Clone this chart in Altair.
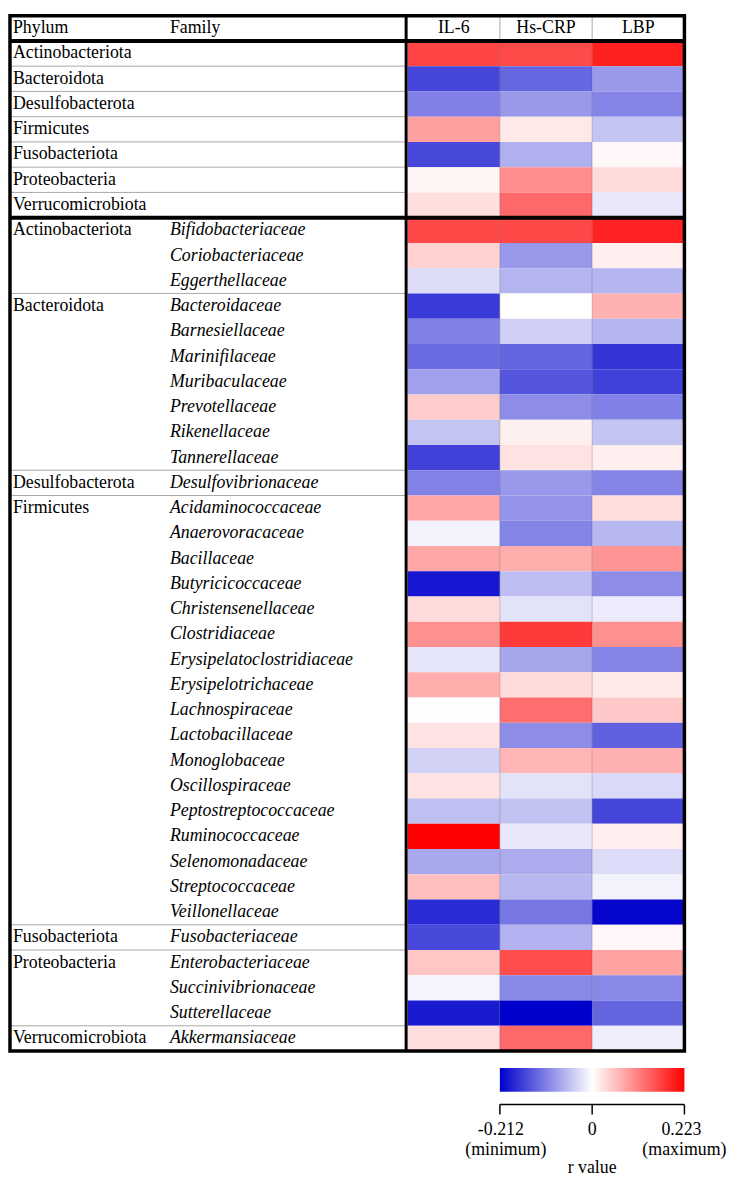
import altair as alt
import pandas as pd

# ---------------- data ----------------
measures = ["IL-6", "Hs-CRP", "LBP"]

phyla = ["Actinobacteriota", "Bacteroidota", "Desulfobacterota", "Firmicutes",
         "Fusobacteriota", "Proteobacteria", "Verrucomicrobiota"]
phylum_il6 = [0.163, -0.155, -0.106, 0.083, -0.153, 0.010, 0.029]
phylum_crp = [0.158, -0.127, -0.085, 0.020, -0.066, 0.100, 0.132]
phylum_lbp = [0.195, -0.085, -0.102, -0.049, 0.007, 0.032, -0.019]

families = ["Bifidobacteriaceae", "Coriobacteriaceae", "Eggerthellaceae",
            "Bacteroidaceae", "Barnesiellaceae", "Marinifilaceae", "Muribaculaceae",
            "Prevotellaceae", "Rikenellaceae", "Tannerellaceae",
            "Desulfovibrionaceae",
            "Acidaminococcaceae", "Anaerovoracaceae", "Bacillaceae", "Butyricicoccaceae",
            "Christensenellaceae", "Clostridiaceae", "Erysipelatoclostridiaceae",
            "Erysipelotrichaceae", "Lachnospiraceae", "Lactobacillaceae", "Monoglobaceae",
            "Oscillospiraceae", "Peptostreptococcaceae", "Ruminococcaceae",
            "Selenomonadaceae", "Streptococcaceae", "Veillonellaceae",
            "Fusobacteriaceae",
            "Enterobacteriaceae", "Succinivibrionaceae", "Sutterellaceae",
            "Akkermansiaceae"]
family_phylum = (["Actinobacteriota"] * 3 + ["Bacteroidota"] * 7 + ["Desulfobacterota"]
                 + ["Firmicutes"] * 17 + ["Fusobacteriota"] + ["Proteobacteria"] * 3
                 + ["Verrucomicrobiota"])
family_il6 = [0.160, 0.040, -0.028,
              -0.164, -0.106, -0.124, -0.079, 0.045, -0.049, -0.158,
              -0.104,
              0.078, -0.011, 0.078, -0.193, 0.032, 0.097, -0.022, 0.072, -0.002,
              0.025, -0.037, 0.025, -0.053, 0.223, -0.072, 0.057, -0.176,
              -0.152,
              0.050, -0.009, -0.190,
              0.030]
family_crp = [0.160, -0.085, -0.062,
              0.000, -0.039, -0.128, -0.141, -0.095, 0.013, 0.025,
              -0.085,
              -0.089, -0.102, 0.071, -0.054, -0.024, 0.172, -0.074, 0.032, 0.127,
              -0.095, 0.065, -0.024, -0.050, -0.019, -0.070, -0.059, -0.113,
              -0.064,
              0.156, -0.099, -0.212,
              0.132]
family_lbp = [0.193, 0.015, -0.062,
              0.069, -0.062, -0.168, -0.158, -0.106, -0.049, 0.015,
              -0.102,
              0.030, -0.059, 0.094, -0.095, -0.017, 0.097, -0.102, 0.018, 0.048,
              -0.131, 0.069, -0.031, -0.155, 0.015, -0.029, -0.011, -0.208,
              0.007,
              0.081, -0.099, -0.128,
              -0.015]

header_labels = ["Phylum", "Family"]
r_min, r_max = -0.212, 0.223
tick_values = [r_min, 0.0, r_max]
tick_labels = ["-0.212", "0", "0.223"]
tick_notes = ["(minimum)", "", "(maximum)"]
legend_title = "r value"

# ---------------- layout / style ----------------
FONT = "Liberation Serif"
FS = 18
W = 681            # table width (plot units)
DIV = 400          # thick divider between labels and heatmap
X0 = 401.5         # heatmap start
BAND = 25.5
GRAY = "#A8A8A8"

# row keys: header, phylum rows, family rows
HDR = "__header__"
p_keys = ["P|" + p for p in phyla]
keys = [HDR] + p_keys + families
TABLE_H = BAND * len(keys)
H = 1166

y_scale = alt.Scale(domain=keys, range=[0, TABLE_H], paddingInner=0, paddingOuter=0)
x_scale = alt.Scale(domain=measures, range=[X0, W], paddingInner=0, paddingOuter=0)
color_scale = alt.Scale(domain=[r_min, 0, r_max],
                        range=["#0000CC", "#FFFFFF", "#FF0000"], interpolate="rgb")
col_w = (W - X0) / 3
l_scale = alt.Scale(domain=[r_min, 0, r_max], range=[X0 + col_w, X0 + 2 * col_w, W],
                    nice=False, zero=False)


def Y(band=None):
    if band is None:
        return alt.Y("key:N", scale=y_scale, axis=None)
    return alt.Y("key:N", scale=y_scale, axis=None, bandPosition=band)


def XC(band=None):
    if band is None:
        return alt.X("measure:N", scale=x_scale, axis=None)
    return alt.X("measure:N", scale=x_scale, axis=None, bandPosition=band)


# ---------------- tables ----------------
rows = []
for i, p in enumerate(phyla):
    for m, vals in zip(measures, [phylum_il6, phylum_crp, phylum_lbp]):
        rows.append({"key": p_keys[i], "measure": m, "r": vals[i]})
for i, f in enumerate(families):
    for m, vals in zip(measures, [family_il6, family_crp, family_lbp]):
        rows.append({"key": f, "measure": m, "r": vals[i]})
cells_df = pd.DataFrame(rows)

# left-hand labels
phy_lab = [{"key": k, "t": p} for k, p in zip(p_keys, phyla)]
seen = []
group_starts = []
for f, p in zip(families, family_phylum):
    if p not in seen:
        seen.append(p)
        group_starts.append(f)
        phy_lab.append({"key": f, "t": p})
phy_lab_df = pd.DataFrame(phy_lab)
fam_lab_df = pd.DataFrame({"key": families, "t": families})

# thin gray separators in the label area
sep_keys = p_keys[1:] + group_starts[1:]
sep_df = pd.DataFrame({"key": sep_keys})
thick_df = pd.DataFrame({"key": [p_keys[0], families[0]]})

one = pd.DataFrame({"key": [HDR]})

cells = alt.Chart(cells_df).mark_rect().encode(
    x=XC(), y=Y(), color=alt.Color("r:Q", scale=color_scale, legend=None))

col_lines_hdr = alt.Chart(pd.DataFrame({"measure": measures[1:], "key": [HDR, HDR]})).mark_rule(
    color=GRAY, strokeWidth=1).encode(x=XC(0), y=Y(0), y2=alt.value(BAND))
col_lines_body = alt.Chart(pd.DataFrame({"measure": measures[1:]})).mark_rule(
    color="#555555", strokeWidth=1, opacity=0.3).encode(
    x=XC(0), y=alt.value(BAND), y2=alt.value(TABLE_H))

hdr_meas = alt.Chart(pd.DataFrame({"measure": measures, "key": [HDR] * 3})).mark_text(
    font=FONT, fontSize=FS, baseline="middle", align="center").encode(
    x=XC(), y=Y(), text="measure:N")
hdr_phylum = alt.Chart(pd.DataFrame({"key": [HDR], "t": [header_labels[0]]})).mark_text(
    font=FONT, fontSize=FS, baseline="middle", align="left").encode(
    x=alt.value(3), y=Y(), text="t:N")
hdr_family = alt.Chart(pd.DataFrame({"key": [HDR], "t": [header_labels[1]]})).mark_text(
    font=FONT, fontSize=FS, baseline="middle", align="left").encode(
    x=alt.value(161.5), y=Y(), text="t:N")

phy_text = alt.Chart(phy_lab_df).mark_text(
    font=FONT, fontSize=FS, baseline="middle", align="left").encode(
    x=alt.value(3), y=Y(), text="t:N")
fam_text = alt.Chart(fam_lab_df).mark_text(
    font=FONT, fontSize=FS, fontStyle="italic", baseline="middle", align="left").encode(
    x=alt.value(161.5), y=Y(), text="t:N")

seps = alt.Chart(sep_df).mark_rule(color=GRAY, strokeWidth=1).encode(
    y=Y(0), x=alt.value(0), x2=alt.value(DIV))
thick = alt.Chart(thick_df).mark_rule(color="black", strokeWidth=4).encode(
    y=Y(0), x=alt.value(0), x2=alt.value(W))
divider = alt.Chart(one).mark_rule(color="black", strokeWidth=3).encode(
    x=alt.value(DIV), y=alt.value(0), y2=alt.value(TABLE_H))
frame = alt.Chart(one).mark_rect(filled=False, stroke="black", strokeWidth=3.5).encode(
    x=alt.value(0), x2=alt.value(W), y=alt.value(0), y2=alt.value(TABLE_H))

# ---------------- colour legend ----------------
LB_TOP = TABLE_H + 17
grad = alt.LinearGradient(
    gradient="linear",
    stops=[alt.GradientStop(offset=0, color="#0000CC"),
           alt.GradientStop(offset=0.5, color="#FFFFFF"),
           alt.GradientStop(offset=1, color="#FF0000")],
    x1=0, x2=1, y1=0, y2=0)
span_df = pd.DataFrame({"lo": [r_min], "hi": [r_max]})
bar = alt.Chart(span_df).mark_rect(fill=grad).encode(
    x=alt.X("lo:Q", scale=l_scale, axis=None), x2="hi:Q",
    y=alt.value(LB_TOP), y2=alt.value(LB_TOP + 24))
bracket = alt.Chart(span_df).mark_rule(color="black", strokeWidth=1.5).encode(
    x=alt.X("lo:Q", scale=l_scale, axis=None), x2="hi:Q", y=alt.value(LB_TOP + 37))
ticks = alt.Chart(pd.DataFrame({"v": tick_values})).mark_rule(
    color="black", strokeWidth=1.5).encode(
    x=alt.X("v:Q", scale=l_scale, axis=None),
    y=alt.value(LB_TOP + 37), y2=alt.value(LB_TOP + 47))

num_dx = [1, 0, -3]
note_dx = [6, 0, 0]
legend_layers = [bar, bracket, ticks]
for v, lab, nt, d1, d2 in zip(tick_values, tick_labels, tick_notes, num_dx, note_dx):
    legend_layers.append(alt.Chart(pd.DataFrame({"v": [v], "t": [lab]})).mark_text(
        font=FONT, fontSize=FS, baseline="middle", align="center", dx=d1).encode(
        x=alt.X("v:Q", scale=l_scale, axis=None), y=alt.value(LB_TOP + 63), text="t:N"))
    if nt:
        legend_layers.append(alt.Chart(pd.DataFrame({"v": [v], "t": [nt]})).mark_text(
            font=FONT, fontSize=FS, baseline="middle", align="center", dx=d2).encode(
            x=alt.X("v:Q", scale=l_scale, axis=None), y=alt.value(LB_TOP + 83), text="t:N"))
legend_layers.append(alt.Chart(pd.DataFrame({"v": [0.0], "t": [legend_title]})).mark_text(
    font=FONT, fontSize=FS, baseline="middle", align="center").encode(
    x=alt.X("v:Q", scale=l_scale, axis=None), y=alt.value(LB_TOP + 101), text="t:N"))

chart = alt.layer(
    cells, col_lines_body, col_lines_hdr, seps, hdr_meas, hdr_phylum, hdr_family,
    phy_text, fam_text, divider, thick, frame, *legend_layers
).resolve_scale(x="independent").properties(
    width=W, height=H, padding=0
).configure_view(stroke="transparent")

chart.save("out.html", embed_options={"renderer": "svg", "actions": False})
